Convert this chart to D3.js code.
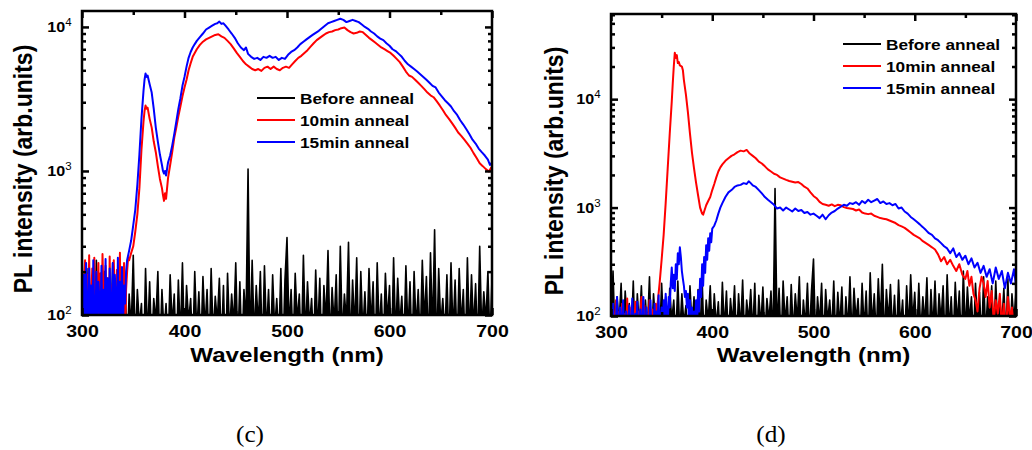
<!DOCTYPE html>
<html lang="en">
<head>
<meta charset="UTF-8">
<title>PL spectra</title>
<style>
  body { margin: 0; background: #fff; }
  svg text { font-family: "Liberation Sans", Arial, sans-serif; font-weight: bold; fill: #000; }
</style>
</head>
<body>
<div id="graph"></div>
<script src="https://cdnjs.cloudflare.com/ajax/libs/d3/7.8.5/d3.min.js"></script>
<script>
// axis ticks
const xMajor = [300, 400, 500, 600, 700];
const xMinor = [350, 450, 550, 650];
const yMajor = [100, 1000, 10000];
const legendNames = ["Before anneal", "10min anneal", "15min anneal"];

// ---- panel (c) ----
// before anneal, 300..700 nm every 2 nm
const blackC = [
  80,150,60,210,90,170,55,240,70,130,85,200,60,160,75,230,50,140,90,190,
  65,180,55,140,80,260,60,150,85,120,45,210,70,170,60,130,90,200,55,150,
  75,120,60,190,85,140,50,175,70,230,60,160,90,130,55,200,75,145,60,185,
  80,150,55,210,70,135,90,180,60,160,45,195,75,140,85,230,60,170,55,150,
  90,1030,60,240,70,160,85,200,55,220,75,150,60,190,80,130,65,210,50,175,
  345,80,150,60,195,90,140,55,260,70,170,85,130,60,205,75,180,50,160,90,
  280,65,155,85,190,55,300,70,140,90,320,60,175,80,250,55,200,75,145,65,
  210,85,170,50,230,75,140,60,195,90,160,55,250,70,180,85,135,60,220,75,
  170,55,200,80,150,65,240,90,185,60,270,75,390,55,210,85,130,70,190,60,
  230,75,175,60,210,85,150,55,250,70,190,80,165,60,300,75,145,90,200,65,
  180
];
// noisy start of the annealed curves, every 1 nm from 300
const redCNoise = [
  270,60,150,240,75,190,95,260,55,130,210,80,250,70,170,110,230,60,195,85,
  265,140,70,220,100,180,55,255,90,160,75,240,120,65,205,150,85,270,60,180,
  110,230,70,150,200,250
];
const blueCNoise = [
  250,80,190,60,230,120,70,210,90,160,55,240,100,75,200,60,170,130,85,220,
  65,150,95,245,70,180,60,210,110,80,230,55,190,140,75,250,60,170,100,215,
  85,160,120,200
];
const redC = [
  [346,240],[348,270],[350,300],[352,380],[354,500],[356,760],[358,1400],[360,2200],[361,2600],[362,2850],
  [363,2700],[364,2750],[366,2300],[368,2000],[370,1600],[372,1350],[374,1080],[376,880],[378,760],[379,680],
  [380,620],[381,700],[382,640],[384,900],[386,1100],[388,1350],[390,1700],[392,2000],[394,2400],[396,2800],
  [398,3300],[400,3800],[402,4300],[404,5000],[406,5600],[408,6200],[410,6600],[412,7000],[415,7500],[418,7900],
  [421,8200],[424,8400],[427,8600],[430,8800],[433,8900],[436,8600],[439,8400],[442,8000],[445,7600],[448,7100],
  [451,6600],[454,6200],[457,5800],[460,5500],[463,5300],[466,5100],[469,5000],[472,5100],[475,4950],[478,5200],
  [481,5300],[484,5100],[487,5300],[490,5100],[493,5000],[496,5200],[499,5300],[502,5200],[505,5500],[508,5800],
  [511,6100],[514,6300],[517,6600],[520,6900],[523,7300],[526,7700],[529,8100],[532,8400],[535,8700],[538,9000],
  [541,9200],[544,9300],[547,9500],[550,9600],[553,9800],[556,9900],[559,9500],[562,9200],[565,9000],[568,9100],
  [571,9300],[574,9200],[577,8800],[580,8400],[583,8100],[586,7800],[589,7500],[592,7200],[595,7000],[598,6800],
  [601,6600],[604,6300],[607,6000],[610,5700],[613,5300],[616,4900],[619,4600],[622,4500],[625,4300],[628,4100],
  [631,3900],[634,3700],[637,3500],[640,3350],[643,3250],[646,3050],[649,2850],[652,2650],[655,2450],[658,2300],
  [661,2150],[664,2000],[667,1850],[670,1750],[673,1650],[676,1550],[679,1450],[682,1330],[685,1230],[688,1130],
  [691,1080],[694,1030],[697,990],[699,1050],[700,1000]
];
const blueC = [
  [344,240],[346,280],[348,330],[350,420],[352,540],[354,800],[356,1300],[358,2300],[360,3600],[361,4300],
  [362,4750],[363,4500],[364,4600],[366,4000],[368,3500],[370,2700],[372,2000],[374,1600],[376,1300],[378,1100],
  [379,1000],[380,960],[381,1000],[382,930],[384,1150],[386,1280],[388,1500],[390,1800],[392,2200],[394,2700],
  [396,3200],[398,3900],[400,4500],[402,5300],[404,6100],[406,6700],[408,7200],[410,7600],[412,8000],[415,8500],
  [418,9000],[421,9600],[424,9900],[427,10200],[430,10500],[432,10600],[434,10900],[436,10500],[438,10600],[440,10200],
  [443,9600],[446,9000],[449,8400],[452,7700],[455,7200],[458,6900],[460,7200],[462,6500],[465,6200],[468,6000],
  [471,6100],[474,5900],[477,6200],[480,6100],[483,6300],[486,6100],[489,6200],[492,5900],[495,6100],[498,6000],
  [501,6400],[504,6700],[507,6900],[510,7200],[513,7600],[516,7900],[519,8200],[522,8500],[525,8800],[528,9100],
  [531,9400],[534,9800],[537,10200],[540,10600],[543,10800],[546,11000],[549,11200],[552,11400],[555,11200],[558,10800],
  [561,11000],[564,11200],[567,11000],[570,10800],[573,10400],[576,10000],[579,9700],[582,9300],[585,9000],[588,8600],
  [591,8300],[594,8100],[597,7700],[600,7400],[603,7000],[606,6800],[609,6500],[612,6200],[615,5800],[618,5500],
  [621,5300],[624,5100],[627,4900],[630,4700],[633,4500],[636,4300],[639,4100],[642,3900],[645,3800],[648,3500],
  [651,3300],[654,3100],[657,2950],[660,2800],[663,2600],[666,2450],[669,2250],[672,2100],[675,1950],[678,1800],
  [681,1650],[684,1550],[687,1430],[690,1350],[693,1280],[696,1200],[698,1100],[700,1150]
];

// ---- panel (d) ----
const blackD = [
  70,260,60,150,85,200,55,170,90,130,65,210,50,160,80,190,60,140,75,230,
  55,160,85,130,60,200,75,150,50,180,90,140,60,210,70,160,85,125,55,190,
  80,150,60,175,70,220,55,140,90,190,65,160,80,135,55,205,75,170,60,145,
  85,190,55,160,75,215,60,140,90,175,70,200,50,155,80,185,65,145,90,170,
  60,1500,75,180,55,210,85,150,60,195,70,160,90,230,55,140,80,200,65,170,
  335,60,150,85,200,55,175,90,140,70,210,60,165,80,185,55,150,75,230,65,
  180,90,145,60,200,75,170,55,250,80,160,65,220,85,300,60,175,90,195,70,
  155,60,215,80,140,55,190,75,240,90,165,60,200,70,150,85,225,55,175,75,
  210,65,160,90,190,55,240,75,150,60,205,85,170,55,260,70,185,90,150,60,
  200,80,165,55,230,70,150,90,190,60,210,75,140,85,180,65,220,55,160,90,
  170
];
const redDNoise = [
  80,60,120,70,95,140,65,85,110,55,75,130,90,60,105,70,145,80,65,100,
  120,55,90,75,135,60,85,110,70,95,150,65,80,125,60,90,105,70,140,85,
  60,115,75,95,130,110
];
const blueDNoise = [
  60,90,130,70,55,100,150,65,80,120,60,95,140,70,55,110,85,65,125,60,
  75,145,90,55,105,70,135,60,85,115,65,95,150,70,60,120,80,55,100,140,
  65,90,75,130,60,110,85,155,70,95,120,65,140,90,160,110,80,150,120
];
const redD = [
  [346,130],[348,200],[350,330],[352,560],[354,1100],[356,2300],[358,4800],[360,9500],[361,14000],[362,20000],
  [363,26800],[364,24000],[365,25500],[366,21500],[367,22000],[368,20500],[370,20000],[371,18500],[372,15000],[374,11000],
  [376,7500],[378,4800],[380,3200],[382,2300],[384,1700],[386,1300],[388,1000],[390,880],[391,860],[392,920],
  [394,1050],[396,1150],[398,1250],[400,1450],[402,1650],[404,1900],[406,2150],[408,2350],[410,2500],[413,2700],
  [416,2850],[419,3000],[422,3100],[425,3250],[428,3350],[431,3300],[434,3400],[437,3150],[440,3000],[443,2850],
  [446,2650],[449,2550],[452,2400],[455,2250],[458,2150],[461,2050],[464,2000],[467,1900],[470,1850],[473,1800],
  [476,1760],[479,1730],[482,1700],[485,1720],[488,1650],[491,1560],[494,1500],[497,1380],[500,1280],[503,1220],
  [506,1130],[509,1080],[512,1060],[515,1040],[518,1070],[521,1030],[524,1060],[527,1050],[530,1010],[533,990],
  [536,980],[539,970],[542,940],[545,960],[548,900],[551,880],[554,870],[557,880],[560,840],[563,820],
  [566,800],[569,790],[572,780],[575,760],[578,740],[581,720],[584,690],[587,670],[590,650],[593,620],
  [596,590],[599,560],[602,540],[605,520],[608,490],[611,470],[614,450],[617,430],[620,410],[623,370],
  [626,320],[629,350],[632,300],[635,330],[638,290],[641,260],[644,300],[647,240],[650,220],[652,260],
  [654,190],[656,230],[658,160],[660,140],[662,110],[664,180],[666,230],[668,200],[670,150],[672,210],
  [674,120],[676,170],[678,90],[680,140],[682,105],[684,160],[686,80],[688,130],[690,70],[692,150],
  [694,95],[696,120],[698,70],[700,100]
];
const blueD = [
  [359,200],[360,280],[361,180],[362,240],[363,170],[364,300],[365,220],[366,380],[367,300],[368,430],
  [369,350],[370,260],[371,220],[372,190],[373,150],[374,170],[375,120],[376,160],[377,90],[378,140],
  [379,70],[380,120],[381,60],[382,110],[383,75],[384,140],[385,80],[386,170],[387,110],[388,220],
  [389,150],[390,300],[391,190],[392,350],[393,250],[394,450],[395,330],[396,520],[397,400],[398,580],
  [399,480],[400,640],[402,680],[404,760],[406,880],[408,1000],[410,1100],[413,1250],[416,1380],[419,1450],
  [422,1550],[425,1600],[428,1620],[431,1680],[434,1650],[436,1750],[438,1680],[440,1600],[443,1550],[446,1450],
  [449,1350],[452,1250],[455,1180],[458,1120],[461,1060],[464,980],[467,1000],[470,940],[473,1000],[476,960],
  [479,920],[482,980],[485,930],[488,950],[491,890],[494,910],[497,860],[500,880],[503,840],[506,800],
  [509,860],[512,780],[515,850],[518,900],[521,930],[524,980],[527,1020],[530,1060],[533,1040],[536,1100],
  [539,1080],[542,1120],[545,1060],[548,1150],[551,1100],[554,1180],[557,1120],[560,1160],[563,1200],[566,1100],
  [569,1140],[572,1080],[575,1100],[578,1050],[581,1080],[584,980],[587,1000],[590,920],[593,880],[596,820],
  [599,780],[602,740],[605,700],[608,660],[611,620],[614,580],[617,560],[620,520],[623,500],[626,470],
  [629,440],[632,420],[635,380],[638,420],[641,350],[644,380],[647,330],[650,360],[653,300],[656,340],
  [659,280],[662,310],[665,250],[668,290],[671,230],[674,270],[677,200],[680,280],[683,220],[686,260],
  [689,180],[692,250],[695,200],[698,270],[700,190]
];

//utility: evenly sampled values -> [wavelength, value] pairs
function sampled(start, step, values) {
    return values.map((v, i) => [start + step * i, v]);
}

const colors = ["#000000", "#ff0000", "#0000ff"];
const widths = [1.6, 2, 2];
const sx = 1.15; // the original figure is stretched horizontally

const panels = [
    {id: "c", x0: 82, x1: 492, y0: 11, y1: 315, yMax: 12900, ylabX: 32,
     legX: 257, legY: 98, capX: 250,
     series: [sampled(300, 2, blackC), sampled(300, 1, redCNoise).concat(redC), sampled(300, 1, blueCNoise).concat(blueC)]},
    {id: "d", x0: 611, x1: 1016, y0: 14, y1: 316, yMax: 61000, ylabX: 563,
     legX: 843, legY: 44, capX: 771,
     series: [sampled(300, 2, blackD), sampled(300, 1, redDNoise).concat(redD), sampled(300, 1, blueDNoise).concat(blueD)]}
];

const svg = d3.select("#graph").append("svg")
    .attr("width", 1032)
    .attr("height", 450)
    .style("display", "block");
svg.append("rect").attr("width", 1032).attr("height", 450).attr("fill", "#fff");

function styleAxis(g) {
    g.attr("font-family", null).attr("font-size", null);
    g.select(".domain").remove();
    g.selectAll(".tick line").attr("stroke", "#000").attr("stroke-width", 2.5);
}

panels.forEach(p => {
    const x = d3.scaleLinear().domain([300, 700]).range([p.x0, p.x1]);
    const y = d3.scaleLog().domain([100, p.yMax]).range([p.y1, p.y0]);
    const yMinor = y.ticks(20).filter(v => !yMajor.includes(v) && v < p.yMax);

    const g = svg.append("g");

    // curves
    g.append("clipPath").attr("id", "clip" + p.id)
        .append("rect")
        .attr("x", p.x0).attr("y", p.y0)
        .attr("width", p.x1 - p.x0).attr("height", p.y1 - p.y0);

    const line = d3.line()
        .x(d => x(d[0]))
        .y(d => y(d[1]));
    // the dense noise of the unannealed sample reads as a filled band
    const band = d3.area()
        .x(d => x(d[0]))
        .y0(p.y1)
        .y1(d => y(d[1]));

    g.append("path")
        .datum(p.series[0])
        .attr("clip-path", "url(#clip" + p.id + ")")
        .attr("fill", colors[0])
        .attr("d", band);

    p.series.forEach((s, i) => {
        g.append("path")
            .datum(s)
            .attr("clip-path", "url(#clip" + p.id + ")")
            .attr("fill", "none")
            .attr("stroke", colors[i])
            .attr("stroke-width", widths[i])
            .attr("stroke-linejoin", "round")
            .attr("d", line);
    });

    // ticks on all four sides, pointing in
    g.append("g").attr("transform", `translate(0,${p.y1})`)
        .call(d3.axisBottom(x).tickValues(xMajor).tickSizeInner(-7).tickSizeOuter(0).tickPadding(10))
        .call(styleAxis)
        .selectAll("text")
        .style("font-size", "17px")
        .attr("transform", `scale(${sx},1)`);
    g.append("g").attr("transform", `translate(0,${p.y1})`)
        .call(d3.axisBottom(x).tickValues(xMinor).tickSizeInner(-4).tickSizeOuter(0).tickFormat(""))
        .call(styleAxis);
    g.append("g").attr("transform", `translate(0,${p.y0})`)
        .call(d3.axisTop(x).tickValues(xMajor).tickSizeInner(-7).tickSizeOuter(0).tickFormat(""))
        .call(styleAxis);
    g.append("g").attr("transform", `translate(0,${p.y0})`)
        .call(d3.axisTop(x).tickValues(xMinor).tickSizeInner(-4).tickSizeOuter(0).tickFormat(""))
        .call(styleAxis);

    g.append("g").attr("transform", `translate(${p.x0},0)`)
        .call(d3.axisLeft(y).tickValues(yMajor).tickSizeInner(-7).tickSizeOuter(0).tickPadding(9))
        .call(styleAxis)
        .selectAll("text")
        .style("font-size", "14px")
        .attr("transform", `scale(${sx},1)`)
        .each(function (d) {
            const t = d3.select(this);
            t.text("10");
            t.append("tspan")
                .attr("dy", "-0.6em")
                .style("font-size", "10px")
                .style("font-weight", "normal")
                .text(Math.round(Math.log10(d)));
        });
    g.append("g").attr("transform", `translate(${p.x0},0)`)
        .call(d3.axisLeft(y).tickValues(yMinor).tickSizeInner(-4).tickSizeOuter(0).tickFormat(""))
        .call(styleAxis);
    g.append("g").attr("transform", `translate(${p.x1},0)`)
        .call(d3.axisRight(y).tickValues(yMajor).tickSizeInner(-7).tickSizeOuter(0).tickFormat(""))
        .call(styleAxis);
    g.append("g").attr("transform", `translate(${p.x1},0)`)
        .call(d3.axisRight(y).tickValues(yMinor).tickSizeInner(-4).tickSizeOuter(0).tickFormat(""))
        .call(styleAxis);

    // frame
    g.append("rect")
        .attr("x", p.x0).attr("y", p.y0)
        .attr("width", p.x1 - p.x0).attr("height", p.y1 - p.y0)
        .attr("fill", "none")
        .attr("stroke", "#000")
        .attr("stroke-width", 2.5);

    // axis titles
    g.append("text")
        .attr("transform", `translate(${(p.x0 + p.x1) / 2},362) scale(${sx},1)`)
        .attr("text-anchor", "middle")
        .style("font-size", "21px")
        .text("Wavelength (nm)");
    g.append("text")
        .attr("transform", `translate(${p.ylabX},${(p.y0 + p.y1) / 2 + 6}) rotate(-90) scale(1,${sx})`)
        .attr("text-anchor", "middle")
        .style("font-size", "23px")
        .text("PL intensity (arb.units)");

    // legend
    legendNames.forEach((name, i) => {
        const ly = p.legY + i * 22;
        g.append("line")
            .attr("x1", p.legX).attr("x2", p.legX + 38)
            .attr("y1", ly).attr("y2", ly)
            .attr("stroke", colors[i])
            .attr("stroke-width", 2);
        g.append("text")
            .attr("transform", `translate(${p.legX + 43},${ly + 5.5}) scale(${sx},1)`)
            .style("font-size", "15px")
            .text(name);
    });

    // caption
    g.append("text")
        .attr("transform", `translate(${p.capX},442) scale(1.05,1)`)
        .attr("text-anchor", "middle")
        .style("font-family", "'Liberation Serif', 'Times New Roman', serif")
        .style("font-weight", "normal")
        .style("font-size", "24px")
        .text("(" + p.id + ")");
});
</script>
</body>
</html>
